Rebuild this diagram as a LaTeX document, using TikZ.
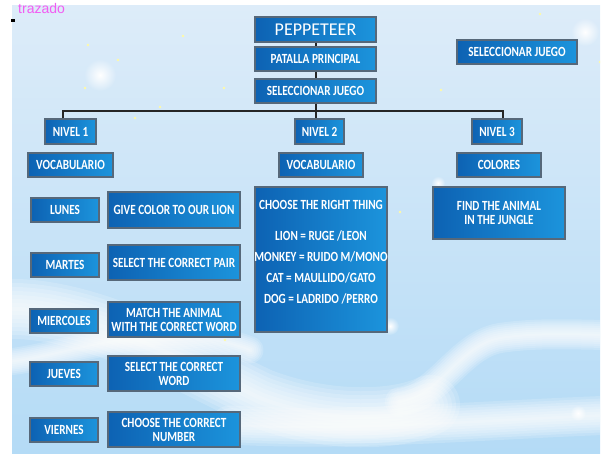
\documentclass[tikz,border=0pt]{standalone}
\usepackage{fontspec}
\setmainfont{Carlito}[FakeStretch=0.8]
\newfontfamily\titulofont{Carlito}
\newfontfamily\marcafont{Liberation Sans}
\usetikzlibrary{fadings}
\definecolor{cajaA}{HTML}{0D62B3}
\definecolor{cajaB}{HTML}{1C94DC}
\definecolor{borde}{HTML}{56687A}
\definecolor{cieloA}{HTML}{DDECF9}
\definecolor{cieloM}{HTML}{88C2EC}
\definecolor{cieloB}{HTML}{B4DBF6}
\definecolor{rosa}{HTML}{F25CF2}
\tikzfading[name=brillo, inner color=transparent!0, outer color=transparent!100]

\begin{document}
\begin{tikzpicture}[x=1pt,y=-1pt,
    caja/.style={draw=borde, line width=1.2pt, left color=cajaA, right color=cajaB,
      text=white, font=\bfseries\fontsize{14}{14}\selectfont, align=center, inner sep=0pt},
    linea/.style={draw=black!85, line width=2pt},
    nube/.style={white, line cap=round, line join=round, opacity=0.17}]
    \useasboundingbox (0,0) rectangle (606,458);
    \shade[top color=cieloA, middle color=cieloM, bottom color=cieloB] (12,5) rectangle (600,453);
    \begin{scope}
        \clip (12,5) rectangle (600,453);
        \foreach \w in {60,52,...,4} {
            \draw[nube, line width=\w] (-10,310) .. controls (80,300) and (180,360) .. (260,398)
                .. controls (330,425) and (400,420) .. (430,405);
            \draw[nube, line width=0.5*\w] (400,402) .. controls (440,395) and (460,345) .. (500,338)
                .. controls (540,332) and (580,335) .. (615,335);
            \draw[nube, line width=0.65*\w] (230,425) .. controls (350,432) and (480,420) .. (615,415);
            \draw[nube, line width=0.45*\w] (-10,362) .. controls (20,365) and (60,350) .. (120,340)
                .. controls (170,332) and (220,338) .. (250,350);
        }
        \fill[white, path fading=brillo] (100,75) circle (16);
        \fill[white, path fading=brillo] (585,32) circle (14);
        \fill[white, path fading=brillo] (390,326) circle (9);
        \fill[white, path fading=brillo] (578,413) circle (8);
        \fill[white, path fading=brillo] (438,183) circle (7);
        \foreach \p in {(88,45),(118,60),(85,88),(135,118),(160,107),(183,36),(224,88),(340,62),
            (441,90),(540,14),(600,62),(400,212),(260,330),(312,332),(225,340)}
            \fill[yellow!35] \p circle (1.3);
    \end{scope}
    \node[text=rosa, font=\marcafont\fontsize{14}{15}\selectfont, anchor=base west, inner sep=0pt] (marca) at (18,13) {trazado};
    \fill[black] (11,18.5) rectangle (14.5,21.5);

    \node[caja, minimum width=121, minimum height=25, font=\titulofont\fontsize{18}{20}\selectfont] (pep) at (315.5,29.5) {PEPPETEER};
    \node[caja, minimum width=121, minimum height=24] (pat) at (315.5,59) {PATALLA PRINCIPAL};
    \node[caja, minimum width=121, minimum height=24] (sel) at (315.5,91) {SELECCIONAR JUEGO};
    \node[caja, minimum width=120, minimum height=24] (selj) at (517,52) {SELECCIONAR JUEGO};

    \node[caja, minimum width=51, minimum height=25] (niv1) at (70.5,131.5) {NIVEL 1};
    \node[caja, minimum width=49, minimum height=25] (niv2) at (319.5,131.5) {NIVEL 2};
    \node[caja, minimum width=50, minimum height=25] (niv3) at (497,131.5) {NIVEL 3};

    \node[caja, minimum width=85, minimum height=24] (voc1) at (70.5,165) {VOCABULARIO};
    \node[caja, minimum width=84, minimum height=24] (voc2) at (321,165) {VOCABULARIO};
    \node[caja, minimum width=84, minimum height=24] (col) at (499,165) {COLORES};

    \node[caja, minimum width=132, minimum height=145] (elegir) at (321,259.5) {};
    \node[text=white, align=center, font=\bfseries\fontsize{14}{21}\selectfont] (elegirtxt) at (321,252.5)
        {CHOOSE THE RIGHT THING\\[10pt] LION = RUGE /LEON\\ MONKEY = RUIDO M/MONO\\ CAT = MAULLIDO/GATO\\ DOG = LADRIDO /PERRO};
    \node[caja, minimum width=132, minimum height=52] (selva) at (499,213) {FIND THE ANIMAL\\ IN THE JUNGLE};

    \node[caja, minimum width=68, minimum height=24] (lun) at (65,210) {LUNES};
    \node[caja, minimum width=132, minimum height=36] (leon) at (174,210) {GIVE COLOR TO OUR LION};
    \node[caja, minimum width=68, minimum height=24] (mar) at (65,265) {MARTES};
    \node[caja, minimum width=132, minimum height=35] (par) at (174,262.5) {SELECT THE CORRECT PAIR};
    \node[caja, minimum width=68, minimum height=24] (mie) at (64,321) {MIERCOLES};
    \node[caja, minimum width=132, minimum height=35] (animal) at (174,319.5) {MATCH THE ANIMAL\\ WITH THE CORRECT WORD};
    \node[caja, minimum width=68, minimum height=24] (jue) at (64,374) {JUEVES};
    \node[caja, minimum width=132, minimum height=35] (palabra) at (174,373.5) {SELECT THE CORRECT\\ WORD};
    \node[caja, minimum width=68, minimum height=24] (vie) at (64,430) {VIERNES};
    \node[caja, minimum width=132, minimum height=35] (numero) at (174,429.5) {CHOOSE THE CORRECT\\ NUMBER};

    \coordinate (bus1) at (63,111);
    \coordinate (bus3) at (503,111);
    \draw[linea] (pep) -- (pat);
    \draw[linea] (pat) -- (sel);
    \draw[linea] (sel.south) -- (sel.south |- niv2.north);
    \draw[linea] (bus1 |- niv1.north) -- (bus1) -- (bus3) -- (bus3 |- niv3.north);
\end{tikzpicture}
\end{document}
